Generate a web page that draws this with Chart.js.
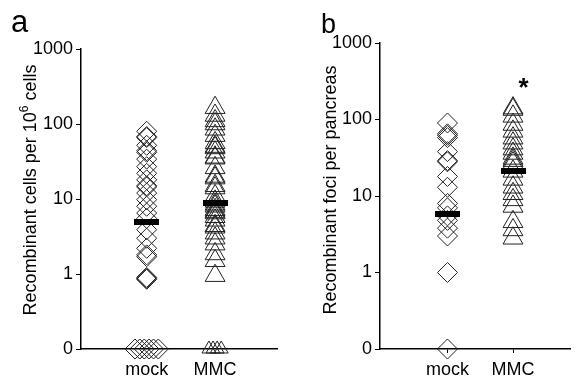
<!DOCTYPE html>
<html>
<head>
<meta charset="utf-8">
<script src="https://cdn.jsdelivr.net/npm/chart.js@4.4.0/dist/chart.umd.min.js"></script>
<style>
  body { margin: 0; background: #fff; width: 583px; height: 378px; position: relative; overflow: hidden; }
  canvas { position: absolute; top: 0; }
  #grafA { left: 0; }
  #grafB { left: 290px; }
</style>
</head>
<body>
<canvas id="grafA" width="290" height="378"></canvas>
<canvas id="grafB" width="293" height="378"></canvas>
<script>
const categorias = ["mock", "MMC"];
const ticksY = [0.1, 1, 10, 100, 1000];
const etiquetasY = ["0", "1", "10", "100", "1000"];
const CERO = 0.1; // el "0" se dibuja donde iria 0.1

// panel a: celulas recombinantes por 10^6 celulas
const mockA = [80, 68, 66, 52, 44, 42, 34, 27, 22, 18, 15, 14.5, 12, 9.8, 8, 6.5, 5.5, 3.9, 3.0, 2.2, 1.8, 1.7, 0.9, 0.87, 0.85, 0, 0, 0, 0, 0, 0];
const mmcA = [165, 130, 110, 100, 85, 70, 56, 50, 48, 42, 36, 35, 26, 20, 19, 15, 14, 11, 9.3, 8.5, 8, 7.2, 6.8, 6.5, 5.8, 5.2, 4.4, 4.2, 3.5, 3, 2.5, 1.85, 1.5, 0.95, 0, 0, 0, 0];
const cerosMockA = [-0.17, -0.1, -0.035, 0.035, 0.1, 0.17];
const cerosMmcA = [-0.09, -0.03, 0.03, 0.09];
const medianasA = [5, 8.9];

// panel b: focos recombinantes por pancreas
const mockB = [90, 65, 62, 58, 38, 29, 28, 18, 13, 8, 7, 5.5, 4.8, 3.8, 3, 1, 0];
const mmcB = [141, 135, 110, 86, 70, 57, 49, 41, 36, 31, 29, 27, 21, 16.5, 13, 10.7, 8.9, 7.3, 4.6, 3.6, 2.8];
const cerosMockB = [0];
const cerosMmcB = [];
const medianasB = [5.8, 21];
const asterisco = { x: 2.16, y: 200 };

const FUENTE = "'Liberation Sans', Arial, sans-serif";

function puntos(valores, x, jitter) {
  let k = 0;
  return valores.map(v => v === 0 ? { x: x + (jitter[k++] || 0), y: CERO } : { x: x, y: v });
}

function barraMediana(w, h) {
  const c = document.createElement("canvas");
  c.width = w; c.height = h;
  const g = c.getContext("2d");
  g.fillStyle = "#000";
  g.fillRect(0, 0, w, h);
  return c;
}

function textosPlugin(letra, tamLetra, letraX, letraY, titulo, tituloX, tituloY, extra) {
  return {
    id: "textos",
    afterDraw(chart) {
      const ctx = chart.ctx;
      ctx.save();
      ctx.fillStyle = "#000";
      ctx.font = tamLetra + "px " + FUENTE;
      ctx.textBaseline = "alphabetic";
      ctx.fillText(letra, letraX, letraY);

      // titulo del eje y, girado, con partes (para el superindice)
      ctx.translate(tituloX, tituloY);
      ctx.rotate(-Math.PI / 2);
      let total = 0;
      titulo.forEach(p => { ctx.font = p.size + "px " + FUENTE; total += ctx.measureText(p.t).width; });
      let x = -total / 2;
      titulo.forEach(p => {
        ctx.font = p.size + "px " + FUENTE;
        ctx.fillText(p.t, x, p.dy);
        x += ctx.measureText(p.t).width;
      });
      ctx.restore();
      if (extra) extra(chart);
    }
  };
}

function crearGrafica(id, d) {
  const ctx = document.getElementById(id).getContext("2d");
  return new Chart(ctx, {
    type: "scatter",
    data: {
      datasets: [
        {
          data: d.medianas.map((v, i) => ({ x: i + 1, y: v })),
          pointStyle: barraMediana(25, 6),
          pointRadius: 12,
          clip: false
        },
        {
          data: puntos(d.mock, 1, d.cerosMock),
          pointStyle: "rectRot",
          pointRadius: 10,
          backgroundColor: "rgba(0,0,0,0)",
          borderColor: "#222",
          borderWidth: 1,
          clip: false
        },
        {
          data: puntos(d.mmc, 2, d.cerosMmc),
          pointStyle: "triangle",
          pointRadius: c => (c.raw && c.raw.y === CERO ? 8 : 11.5),
          backgroundColor: "rgba(0,0,0,0)",
          borderColor: "#222",
          borderWidth: 1,
          clip: false
        }
      ]
    },
    options: {
      responsive: false,
      animation: false,
      events: [],
      layout: { padding: d.padding },
      plugins: { legend: { display: false }, tooltip: { enabled: false } },
      scales: {
        x: {
          type: "linear",
          position: "bottom",
          min: d.xmin,
          max: d.xmax,
          afterBuildTicks: s => { s.ticks = [{ value: 1 }, { value: 2 }]; },
          afterFit: s => { s.height = 29; },
          ticks: {
            callback: v => categorias[v - 1],
            font: { family: FUENTE, size: 18 },
            color: "#000",
            padding: d.ticksX ? 6 : 10,
            maxRotation: 0
          },
          grid: { drawOnChartArea: false, drawTicks: d.ticksX, tickLength: 4, color: "#000" },
          border: { color: "#000", width: 1.5 }
        },
        y: {
          type: "logarithmic",
          position: "left",
          min: 0.1,
          max: 1000,
          afterBuildTicks: s => { s.ticks = ticksY.map(v => ({ value: v })); },
          afterFit: s => { s.width = d.anchoY; },
          ticks: {
            callback: v => etiquetasY[ticksY.indexOf(v)],
            font: { family: FUENTE, size: 18 },
            color: "#000",
            padding: 3
          },
          grid: { drawOnChartArea: false, tickLength: 5, color: "#000" },
          border: { color: "#000", width: 1.5 }
        }
      }
    },
    plugins: [d.plugin]
  });
}

crearGrafica("grafA", {
  mock: mockA, mmc: mmcA, cerosMock: cerosMockA, cerosMmc: cerosMmcA, medianas: medianasA,
  xmin: 0.04, xmax: 2.905, anchoY: 81, ticksX: false,
  padding: { left: 0, right: 3, top: 49, bottom: 0 },
  plugin: textosPlugin("a", 31, 11, 32, [
    { t: "Recombinant cells per 10", size: 18, dy: 0 },
    { t: "6", size: 12, dy: -8 },
    { t: " cells", size: 18, dy: 0 }
  ], 36, 190)
});

crearGrafica("grafB", {
  mock: mockB, mmc: mmcB, cerosMock: cerosMockB, cerosMmc: cerosMmcB, medianas: medianasB,
  xmin: -0.03, xmax: 2.87, anchoY: 90, ticksX: true,
  padding: { left: 0, right: 0, top: 43, bottom: 0 },
  plugin: textosPlugin("b", 27, 31, 33, [
    { t: "Recombinant foci per pancreas", size: 18, dy: 0 }
  ], 46, 190, chart => {
    const c = chart.ctx;
    c.save();
    c.fillStyle = "#000";
    c.font = "bold 26px " + FUENTE;
    c.textAlign = "center";
    c.fillText("*", chart.scales.x.getPixelForValue(asterisco.x), chart.scales.y.getPixelForValue(asterisco.y));
    c.restore();
  })
});
</script>
</body>
</html>
